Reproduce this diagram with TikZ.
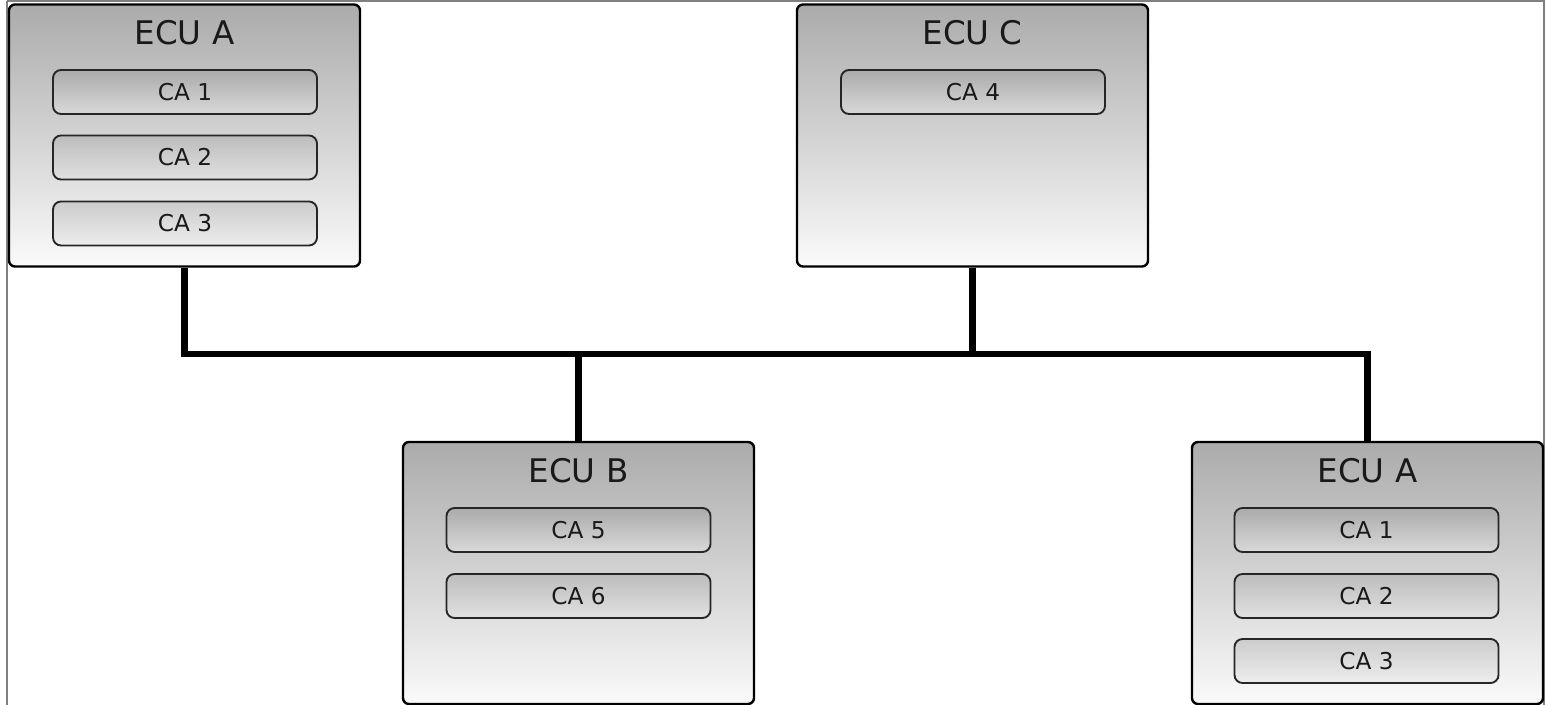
\documentclass[tikz,border=0pt]{standalone}
\usepackage{fontspec}
\setmainfont{DejaVu Sans}
\begin{document}
\begin{tikzpicture}[x=0.75pt,y=-0.75pt,
  ecu/.style={draw=black,line width=1.8pt,rounded corners=4.5pt,
    top color=ecutop,bottom color=ecubot,
    minimum width=263.25pt,minimum height=196.5pt,inner sep=0pt},
  ecutitle/.style={anchor=base,font=\fontsize{24.4pt}{27pt}\selectfont,text=black!90},
  ca/.style={draw=black!85,line width=1.4pt,rounded corners=6pt,
    minimum width=198pt,minimum height=33pt,inner sep=0pt,
    font=\fontsize{17.4pt}{20pt}\selectfont,text=black!90},
  ca1/.style={ca,top color=black!33,bottom color=black!15},
  ca2/.style={ca,top color=black!26,bottom color=black!12},
  ca3/.style={ca,top color=black!20,bottom color=black!7},
  bus/.style={line width=4.8pt,black}]
\definecolor{ecutop}{HTML}{ABABAB}
\definecolor{ecubot}{HTML}{FAFAFA}
\useasboundingbox (0,0) rectangle (1546,705);
\draw[black!50,line width=0.8pt] (7,1) -- (1544,1) -- (1544,705);
\draw[black!50,line width=0.8pt] (7,1) -- (7,705);
% ECU A (top left)
\node[ecu] (ecuA) at (184.5,135.5) {};
\node[ecutitle] (tA) at (184.5,45) {ECU A};
\node[ca1] (a1) at (185,92) {CA 1};
\node[ca2] (a2) at (185,157.5) {CA 2};
\node[ca3] (a3) at (185,223.5) {CA 3};
% ECU C
\node[ecu] (ecuC) at (972.5,135.5) {};
\node[ecutitle] (tC) at (972.5,45) {ECU C};
\node[ca1] (c4) at (973,92) {CA 4};
% ECU B
\node[ecu] (ecuB) at (578.5,573) {};
\node[ecutitle] (tB) at (578.5,483) {ECU B};
\node[ca1] (b5) at (578.5,530) {CA 5};
\node[ca2] (b6) at (578.5,596) {CA 6};
% ECU A (bottom right)
\node[ecu] (ecuA2) at (1367.5,573) {};
\node[ecutitle] (tA2) at (1367.5,483) {ECU A};
\node[ca1] (d1) at (1366.5,530) {CA 1};
\node[ca2] (d2) at (1366.5,596) {CA 2};
\node[ca3] (d3) at (1366.5,661) {CA 3};
% bus
\coordinate (bus) at (0,354);
\draw[bus] (ecuA.south) |- (ecuA2.north |- bus) -- (ecuA2.north);
\draw[bus] (ecuC.south) -- (ecuC.south |- bus);
\draw[bus] (ecuB.north) -- (ecuB.north |- bus);
\end{tikzpicture}
\end{document}
